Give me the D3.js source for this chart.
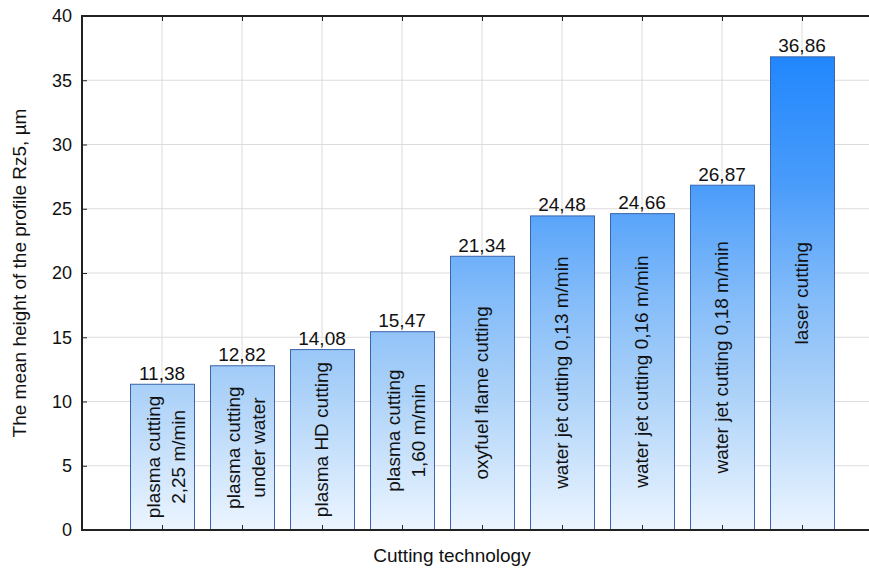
<!DOCTYPE html>
<html>
<head>
<meta charset="utf-8">
<script src="https://cdn.jsdelivr.net/npm/d3@7"></script>
<style>
  body { margin: 0; background: #fff; }
  text { font-family: "Liberation Sans", Arial, sans-serif; fill: #111; }
</style>
</head>
<body>
<script>
// chart data
const categories = [
  ["plasma cutting", "2,25 m/min"],
  ["plasma cutting", "under water"],
  ["plasma HD cutting"],
  ["plasma cutting", "1,60 m/min"],
  ["oxyfuel flame cutting"],
  ["water jet cutting 0,13 m/min"],
  ["water jet cutting 0,16 m/min"],
  ["water jet cutting 0,18 m/min"],
  ["laser cutting"]
];
const values = [11.38, 12.82, 14.08, 15.47, 21.34, 24.48, 24.66, 26.87, 36.86];
const valueLabels = ["11,38", "12,82", "14,08", "15,47", "21,34", "24,48", "24,66", "26,87", "36,86"];
const yTicks = [0, 5, 10, 15, 20, 25, 30, 35, 40];

const width = 869, height = 570;
const margin = {top: 16, left: 82, bottom: 40};
const plotRight = 882; // plot box runs past the right edge of the picture
const plotBottom = height - margin.bottom;

const svg = d3.select("body").append("svg")
    .attr("width", width)
    .attr("height", height);

// vertical fade shared by all bars (taller bars reach the deeper blue)
const defs = svg.append("defs");
const grad = defs.append("linearGradient")
    .attr("id", "barGrad")
    .attr("gradientUnits", "userSpaceOnUse")
    .attr("x1", 0).attr("x2", 0)
    .attr("y1", margin.top).attr("y2", plotBottom);
grad.append("stop").attr("offset", "0%").attr("stop-color", "#1480ff");
grad.append("stop").attr("offset", "33%").attr("stop-color", "#4a9cfa");
grad.append("stop").attr("offset", "55%").attr("stop-color", "#84bcf9");
grad.append("stop").attr("offset", "72%").attr("stop-color", "#a9d0f8");
grad.append("stop").attr("offset", "100%").attr("stop-color", "#ecf5ff");

const idx = d3.range(categories.length);
const x = d3.scalePoint()
    .domain(idx)
    .range([margin.left + 80, plotRight - 80]);

const y = d3.scaleLinear()
    .domain([0, 40])
    .range([plotBottom, margin.top]);

const barW = 64;

// grid lines
svg.append("g")
  .selectAll("line")
  .data(yTicks.slice(1, -1))
  .enter().append("line")
    .attr("x1", margin.left).attr("x2", plotRight)
    .attr("y1", d => y(d)).attr("y2", d => y(d))
    .attr("stroke", "#dcdcdc").attr("stroke-width", 1);

svg.append("g")
  .selectAll("line")
  .data(idx)
  .enter().append("line")
    .attr("x1", d => x(d)).attr("x2", d => x(d))
    .attr("y1", margin.top).attr("y2", plotBottom)
    .attr("stroke", "#dcdcdc").attr("stroke-width", 1);

// bars
svg.append("g")
  .selectAll("rect")
  .data(idx)
  .enter().append("rect")
    .attr("x", d => x(d) - barW / 2 + 0.5)
    .attr("y", d => y(values[d]) + 0.5)
    .attr("width", barW)
    .attr("height", d => plotBottom - y(values[d]))
    .attr("fill", "url(#barGrad)")
    .attr("stroke", "#3a64ac")
    .attr("stroke-width", 1);

// value labels above the bars
svg.append("g")
  .selectAll("text")
  .data(idx)
  .enter().append("text")
    .attr("x", d => x(d))
    .attr("y", d => y(values[d]) - 4)
    .attr("text-anchor", "middle")
    .style("font-size", "19px")
    .text(d => valueLabels[d]);

// category labels inside the bars, rotated
const lab = svg.append("g")
  .selectAll("text")
  .data(idx)
  .enter().append("text")
    .attr("transform", d => {
      const cy = (y(values[d]) + plotBottom) / 2;
      return "translate(" + x(d) + "," + cy + ") rotate(-90)";
    })
    .attr("text-anchor", "middle")
    .style("font-size", "19px");

lab.each(function(d) {
  const lines = categories[d];
  const t = d3.select(this);
  lines.forEach((s, i) => {
    t.append("tspan")
      .attr("x", 0)
      .attr("dy", lines.length === 1 ? "0.3em" : (i === 0 ? "-0.1em" : "1.3em"))
      .text(s);
  });
});

// axes
const yAxis = d3.axisLeft(y).tickValues(yTicks).tickSize(-5).tickPadding(10);
const gy = svg.append("g")
    .attr("transform", "translate(" + margin.left + ",0)")
    .call(yAxis);
gy.select(".domain").remove();
gy.selectAll(".tick line").attr("stroke", "#222");
gy.selectAll(".tick text")
    .style("font-size", "18px")
    .style("font-family", "Liberation Sans, Arial, sans-serif")
    .attr("fill", "#111");

const xAxis = d3.axisBottom(x).tickSize(-5).tickFormat("");
svg.append("g")
    .attr("transform", "translate(0," + plotBottom + ")")
    .call(xAxis)
    .call(g => g.select(".domain").remove())
    .selectAll(".tick line").attr("stroke", "#222");

const xTop = d3.axisTop(x).tickSize(-5).tickFormat("");
svg.append("g")
    .attr("transform", "translate(0," + margin.top + ")")
    .call(xTop)
    .call(g => g.select(".domain").remove())
    .selectAll(".tick line").attr("stroke", "#222");

// frame
svg.append("line")
    .attr("x1", margin.left).attr("x2", plotRight)
    .attr("y1", margin.top).attr("y2", margin.top)
    .attr("stroke", "#222").attr("stroke-width", 2);
svg.append("line")
    .attr("x1", margin.left).attr("x2", plotRight)
    .attr("y1", plotBottom).attr("y2", plotBottom)
    .attr("stroke", "#222").attr("stroke-width", 2);
svg.append("line")
    .attr("x1", margin.left).attr("x2", margin.left)
    .attr("y1", margin.top - 1).attr("y2", plotBottom + 1)
    .attr("stroke", "#222").attr("stroke-width", 2);

// axis titles
svg.append("text")
    .attr("x", 452)
    .attr("y", 562)
    .attr("text-anchor", "middle")
    .style("font-size", "19px")
    .text("Cutting technology");

svg.append("text")
    .attr("transform", "translate(26," + (margin.top + plotBottom) / 2 + ") rotate(-90)")
    .attr("text-anchor", "middle")
    .style("font-size", "19px")
    .text("The mean height of the profile Rz5, µm");
</script>
</body>
</html>
